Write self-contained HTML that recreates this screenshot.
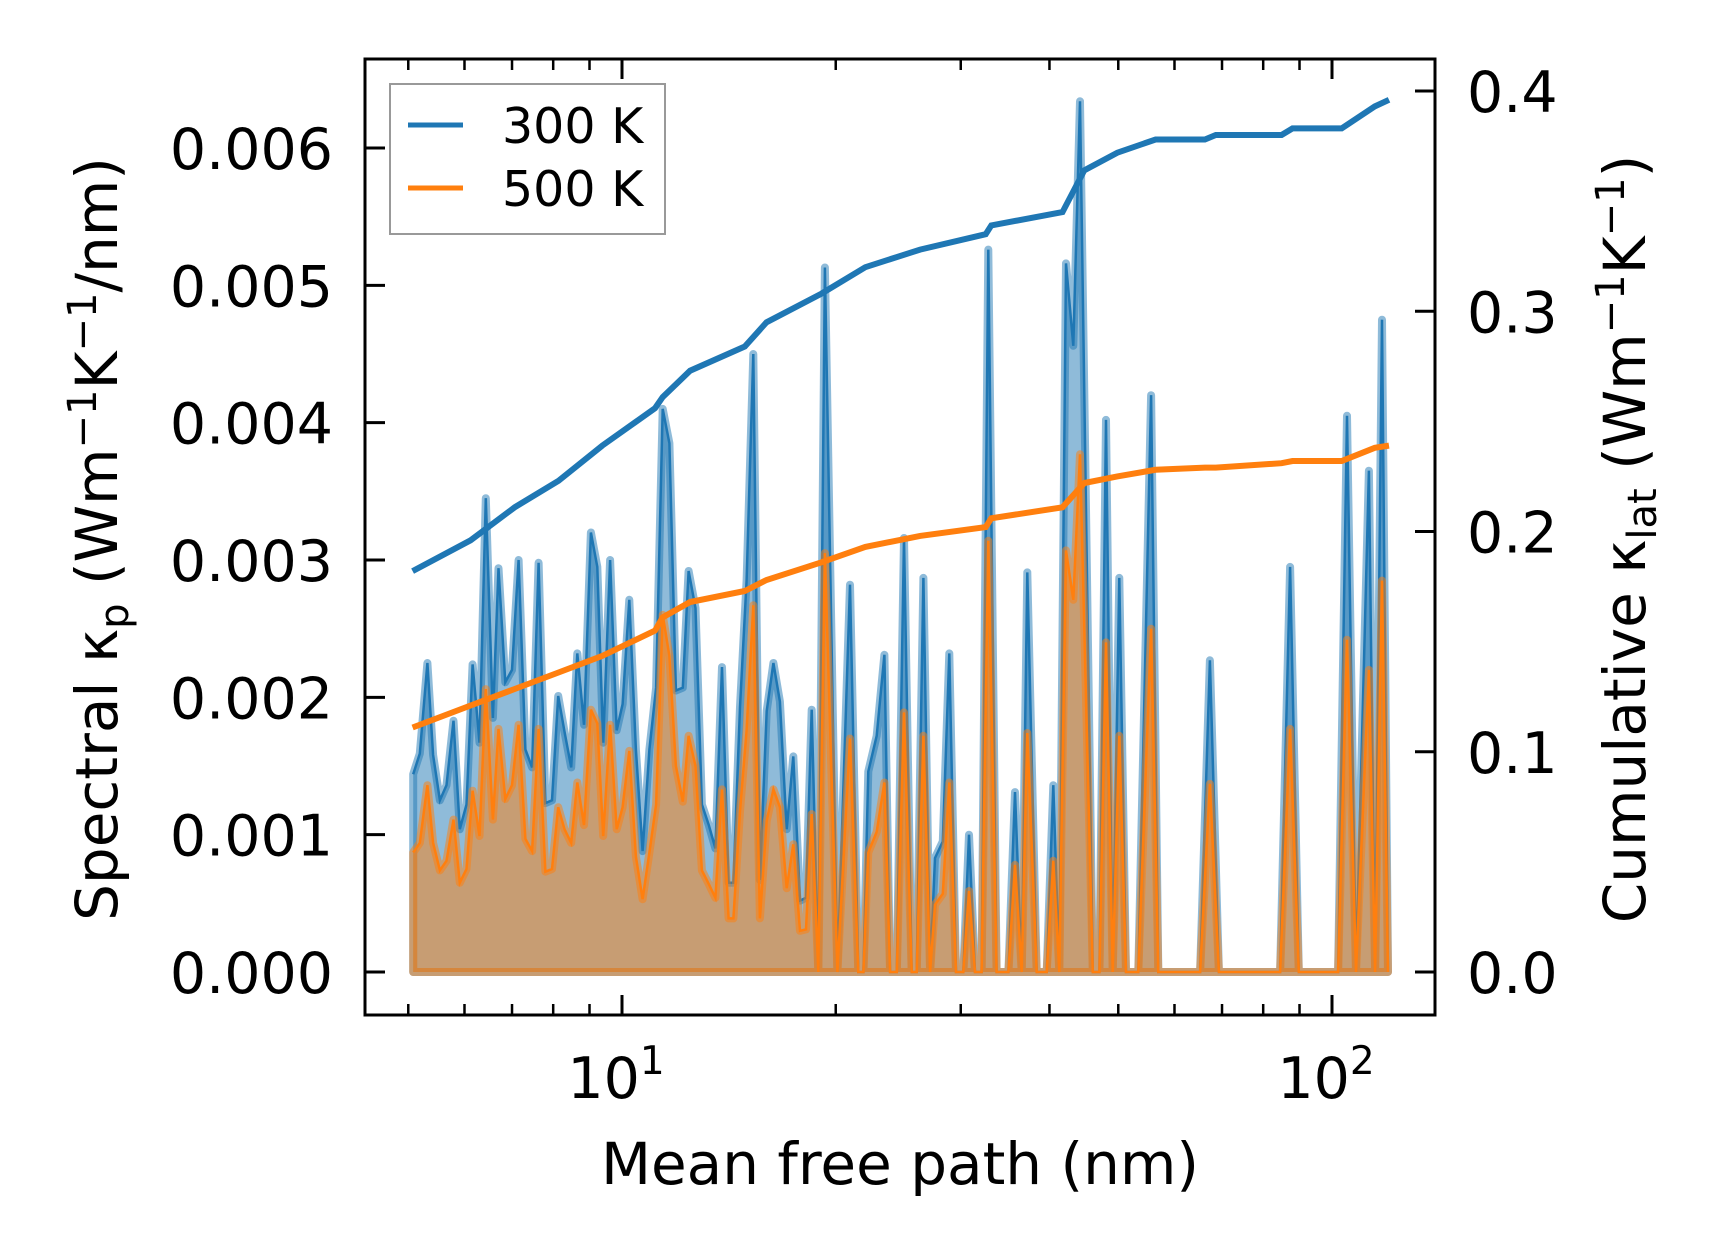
<!DOCTYPE html>
<html><head><meta charset="utf-8"><style>
html,body{margin:0;padding:0;background:#fff;}
svg{display:block;font-family:"DejaVu Sans","Liberation Sans",sans-serif;}
</style></head><body>
<svg id="chart" width="1716" height="1254" viewBox="0 0 1716 1254" xmlns="http://www.w3.org/2000/svg">
<g id="fills"></g>
<g id="lines"></g>
<g id="ticks"></g>
<rect x="365" y="59" width="1070" height="956" fill="none" stroke="#000" stroke-width="3"/>
<g>
<rect x="390" y="84" width="275" height="150" fill="#fff" fill-opacity="0.8" stroke="#999" stroke-width="2"/>
<line x1="408" y1="125" x2="463" y2="125" stroke="#1f77b4" stroke-width="5"/>
<text x="502" y="143" font-size="49">300 K</text>
<line x1="408" y1="188" x2="463" y2="188" stroke="#ff7f0e" stroke-width="5"/>
<text x="502" y="206" font-size="49">500 K</text>
</g>
<text x="900" y="1184" font-size="58" text-anchor="middle">Mean free path (nm)</text>
<text transform="translate(117,539) rotate(-90)" font-size="58" text-anchor="middle">Spectral κ<tspan font-size="40" dy="11">p</tspan><tspan dy="-11"> (Wm</tspan><tspan font-size="40" dy="-21">−1</tspan><tspan dy="21">K</tspan><tspan font-size="40" dy="-21">−1</tspan><tspan dy="21">/nm)</tspan></text>
<text transform="translate(1645,539) rotate(-90)" font-size="58" text-anchor="middle">Cumulative κ<tspan font-size="40" dy="11">lat</tspan><tspan dy="-11"> (Wm</tspan><tspan font-size="40" dy="-21">−1</tspan><tspan dy="21">K</tspan><tspan font-size="40" dy="-21">−1</tspan><tspan dy="21">)</tspan></text>
</svg>
<script>
// spectral data (mfp in nm, kappa in 1e-3 W/mK/nm)
const mfp = [5.08,5.19,5.32,5.42,5.54,5.66,5.79,5.91,6.04,6.16,6.30,6.43,6.58,6.70,6.85,7.00,7.15,7.31,7.47,7.63,7.80,7.97,8.13,8.30,8.48,8.65,8.84,9.04,9.23,9.41,9.62,9.83,10.02,10.24,10.46,10.69,10.93,11.17,11.41,11.66,11.91,12.18,12.41,12.69,12.96,13.25,13.54,13.83,14.13,14.35,14.66,14.98,15.31,15.64,15.99,16.34,16.69,17.06,17.43,17.81,18.16,18.50,18.90,19.31,20.11,20.95,21.52,21.88,22.23,22.84,23.42,23.86,24.38,24.96,25.59,26.01,26.58,27.16,27.60,28.30,28.91,29.54,30.25,30.81,31.42,32.10,32.80,33.70,35.01,35.77,36.56,37.23,38.38,39.64,40.50,41.30,42.20,43.21,44.16,46.03,47.03,48.05,49.10,50.16,51.27,53.35,55.61,56.94,65.2,67.3,69.3,84.5,87.3,89.8,102.0,105.0,108.1,112.7,115.0,117.6,119.9];
const k300 = [1.44,1.59,2.25,1.58,1.25,1.36,1.83,1.04,1.22,2.24,1.67,3.45,1.85,2.94,2.11,2.2,3.0,1.62,1.49,2.98,1.23,1.25,2.01,1.75,1.49,2.32,1.8,3.2,2.95,1.67,3.0,1.76,1.95,2.71,1.62,0.88,1.62,2.07,4.1,3.85,2.05,2.07,2.92,2.65,1.22,1.07,0.9,2.22,0.65,0.65,1.93,2.85,4.5,0.67,1.9,2.25,1.97,1.04,1.57,0.52,0.54,1.91,0,5.13,0,2.82,0,0,1.46,1.72,2.31,0,0,3.16,0,0,2.87,0,0.83,0.95,2.32,0,0,1.0,0,0,5.26,0,0,1.31,0,2.91,0,0,1.36,0,5.16,4.56,6.34,0,0,4.02,0,2.87,0,0,4.2,0,0,2.27,0,0,2.95,0,0,4.05,0,3.65,0,4.75,0];
const k500 = [0.87,0.94,1.36,0.94,0.74,0.81,1.11,0.65,0.75,1.32,0.99,2.06,1.11,1.77,1.26,1.36,1.8,0.97,0.88,1.77,0.73,0.75,1.2,1.04,0.94,1.38,1.07,1.91,1.81,0.99,1.8,1.04,1.2,1.61,0.84,0.53,0.87,1.22,2.6,2.3,1.5,1.24,1.72,1.5,0.74,0.64,0.54,1.33,0.39,0.39,1.17,1.76,2.67,0.39,1.1,1.33,1.2,0.61,0.93,0.3,0.31,1.15,0,3.05,0,1.7,0,0,0.87,1.02,1.38,0,0,1.89,0,0,1.72,0,0.49,0.57,1.38,0,0,0.59,0,0,3.14,0,0,0.78,0,1.74,0,0,0.81,0,3.07,2.71,3.77,0,0,2.4,0,1.72,0,0,2.5,0,0,1.37,0,0,1.77,0,0,2.42,0,2.2,0,2.85,0];
// cumulative data (W/mK)
const cumMfp = [5.07,6.12,7.06,8.14,9.38,11.13,11.41,12.47,14.89,15.98,19.10,22.01,26.29,32.53,33.12,41.73,44.79,49.84,56.43,66.22,68.61,84.92,87.99,103.2,114.9,120.3];
const cum300 = [0.182,0.196,0.211,0.223,0.239,0.256,0.261,0.273,0.284,0.295,0.308,0.320,0.328,0.335,0.339,0.345,0.364,0.372,0.378,0.378,0.380,0.380,0.383,0.383,0.393,0.396];
const cum500 = [0.111,0.121,0.1285,0.136,0.1435,0.155,0.161,0.168,0.173,0.178,0.186,0.193,0.198,0.202,0.206,0.211,0.222,0.225,0.228,0.229,0.229,0.231,0.232,0.232,0.238,0.239];
const leftTicks = ["0.000","0.001","0.002","0.003","0.004","0.005","0.006"];
const rightTicks = ["0.0","0.1","0.2","0.3","0.4"];

const NS="http://www.w3.org/2000/svg";
const X=v=>622+710*(Math.log10(v)-1);
const YL=v=>972-137.33*v;          // v in 1e-3
const YR=v=>972-2202.5*v;
function mk(tag,attrs,parent){const e=document.createElementNS(NS,tag);for(const k in attrs)e.setAttribute(k,attrs[k]);parent.appendChild(e);return e;}
const fills=document.getElementById('fills'),lines=document.getElementById('lines'),ticks=document.getElementById('ticks');
function pts(xs,ys,f){return xs.map((x,i)=>X(x).toFixed(1)+','+f(ys[i]).toFixed(1)).join(' ');}
function area(ys,color,name){
  const p=X(mfp[0]).toFixed(1)+','+YL(0)+' '+pts(mfp,ys,YL)+' '+X(mfp[mfp.length-1]).toFixed(1)+','+YL(0);
  const a=mk('polygon',{points:p,fill:color,'fill-opacity':0.5,stroke:color,'stroke-opacity':0.5,'stroke-width':8,'stroke-linejoin':'round'},fills);
  
  
  const l=mk('polyline',{points:pts(mfp,ys,YL),fill:'none',stroke:color,'stroke-width':2.5},fills);
  
  
}
area(k300,'#1f77b4','spectral-300k');
area(k500,'#ff7f0e','spectral-500k');
const c1=mk('polyline',{points:pts(cumMfp,cum300,YR),fill:'none',stroke:'#1f77b4','stroke-width':6},lines);


const c2=mk('polyline',{points:pts(cumMfp,cum500,YR),fill:'none',stroke:'#ff7f0e','stroke-width':6},lines);


leftTicks.forEach((t,i)=>{const y=YL(i);
  const tk=mk('line',{x1:365,x2:385,y1:y,y2:y,stroke:'#000','stroke-width':3},ticks);
  
  
  const tx=mk('text',{x:333,y:y+21,'font-size':57,'text-anchor':'end'},ticks);tx.textContent=t;
  
  
});
rightTicks.forEach((t,i)=>{const y=YR(i*0.1);
  const tk=mk('line',{x1:1415,x2:1435,y1:y,y2:y,stroke:'#000','stroke-width':3},ticks);
  
  
  const tx=mk('text',{x:1467,y:y+21,'font-size':57},ticks);tx.textContent=t;
  
  
});
[5,6,7,8,9,10,20,30,40,50,60,70,80,90,100].forEach(v=>{const x=X(v);const major=(v===10||v===100);const L=major?20:11;
  const b=mk('line',{x1:x,x2:x,y1:1015,y2:1015-L,stroke:'#000','stroke-width':major?3:2.5},ticks);
  
  
  const t=mk('line',{x1:x,x2:x,y1:59,y2:59+L,stroke:'#000','stroke-width':major?3:2.5},ticks);
  
  
  if(major){const tx=mk('text',{x:x-6,y:1098,'font-size':57,'text-anchor':'middle'},ticks);
    tx.innerHTML='10<tspan font-size="39" dy="-24">'+(v===10?'1':'2')+'</tspan>';
    
    }
});
</script>
</body></html>
